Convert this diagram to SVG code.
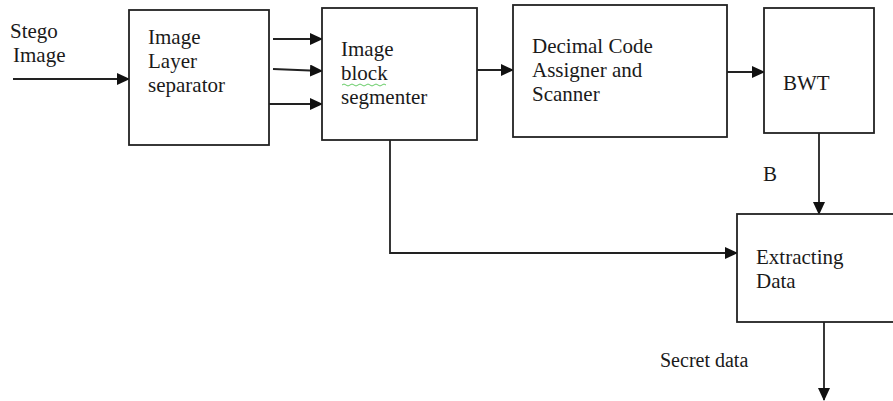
<svg xmlns="http://www.w3.org/2000/svg" width="893" height="401" viewBox="0 0 893 401">
<defs>
<marker id="ah" markerUnits="userSpaceOnUse" markerWidth="13" markerHeight="12" refX="12" refY="6" orient="auto">
<path d="M0,0 L13,6 L0,12 z" fill="#111"/>
</marker>
<style>
.box{fill:#fff;stroke:#222;stroke-width:1.8}
.ln{fill:none;stroke:#222;stroke-width:1.8}
.arr{fill:none;stroke:#222;stroke-width:1.8;marker-end:url(#ah)}
text{font-family:"Liberation Serif","Times New Roman",serif;font-size:21px;fill:#1a1a1a}
</style>
</defs>
<rect width="893" height="401" fill="#fff"/>
<text x="10" y="38">Stego</text>
<text x="13" y="62">Image</text>
<g id="connectors">
<line class="arr" x1="13" y1="79" x2="129" y2="79"/>
<line class="arr" x1="273" y1="39" x2="322" y2="39"/>
<line class="arr" x1="273" y1="69" x2="322" y2="71"/>
<line class="arr" x1="269" y1="104" x2="322" y2="104"/>
<line class="arr" x1="477" y1="70" x2="513" y2="70"/>
<line class="arr" x1="727" y1="72" x2="764" y2="72"/>
<line class="arr" x1="819" y1="133" x2="819" y2="214"/>
<polyline class="arr" points="390,140 390,253 737,253"/>
<line class="arr" x1="824" y1="322" x2="824" y2="400"/>
</g>
<g id="layer-separator">
<rect class="box" x="129" y="10" width="140" height="135"/>
<text x="148" y="44">Image</text>
<text x="148" y="68">Layer</text>
<text x="148" y="92">separator</text>
</g>
<g id="block-segmenter">
<rect class="box" x="322" y="8" width="155" height="132"/>
<text x="341" y="56">Image</text>
<text x="341" y="80">block</text>
<path d="M342,85 q2,-2 4,0 t4,0 t4,0 t4,0 t4,0 t4,0 t4,0 t4,0 t4,0 t4,0 t4,0" fill="none" stroke="#6c6" stroke-width="1"/>
<text x="341" y="104">segmenter</text>
</g>
<g id="decimal-code">
<rect class="box" x="513" y="5" width="214" height="132"/>
<text x="532" y="53">Decimal Code</text>
<text x="532" y="77">Assigner and</text>
<text x="532" y="101">Scanner</text>
</g>
<g id="bwt">
<rect class="box" x="764" y="8" width="110" height="125"/>
<text x="783" y="90">BWT</text>
</g>
<text x="763" y="181">B</text>
<g id="extracting-data">
<rect class="box" x="737" y="214" width="170" height="108"/>
<text x="756" y="264">Extracting</text>
<text x="756" y="288">Data</text>
</g>
<text x="660" y="367" style="font-size:20px">Secret data</text>
</svg>
